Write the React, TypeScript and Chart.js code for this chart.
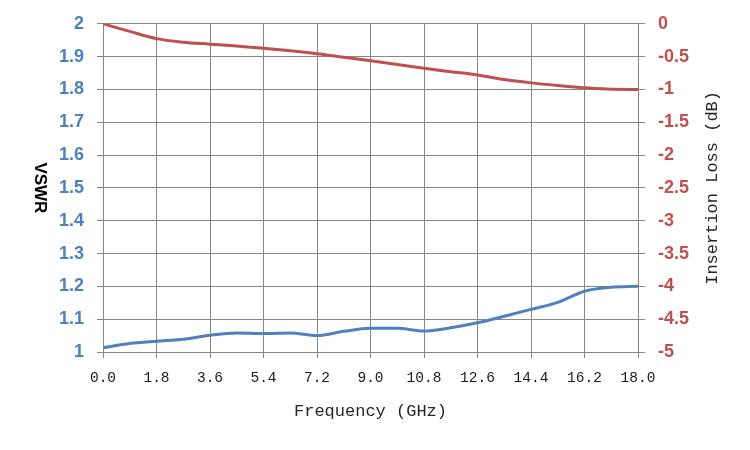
import { useRef, useEffect } from 'react';
import { Chart, registerables, Plugin } from 'chart.js';

Chart.register(...registerables);

// frequency points (GHz)
const freqs = [0, 0.9, 1.8, 2.7, 3.6, 4.5, 5.4, 6.3, 7.2, 8.1, 9.0, 9.9, 10.8, 11.7, 12.6, 13.5, 14.4, 15.3, 16.2, 17.1, 18.0];
const vswr = [1.013, 1.026, 1.033, 1.039, 1.051, 1.058, 1.056, 1.058, 1.05, 1.063, 1.072, 1.072, 1.064, 1.074, 1.089, 1.109, 1.13, 1.151, 1.185, 1.197, 1.2];
const insertionLoss = [0, -0.115, -0.226, -0.28, -0.31, -0.34, -0.372, -0.41, -0.455, -0.51, -0.562, -0.62, -0.678, -0.73, -0.78, -0.85, -0.9, -0.94, -0.975, -0.998, -1.0];
const freqTicks = [0, 1.8, 3.6, 5.4, 7.2, 9.0, 10.8, 12.6, 14.4, 16.2, 18.0];

const BLUE = '#4F81BD';
const RED = '#C0504D';
const GRID = '#878787';
const MONO = '"Liberation Mono", "DejaVu Sans Mono", monospace';
const SANS = '"Liberation Sans", Arial, sans-serif';

// axis titles drawn by hand: the two vertical ones run opposite to Chart.js defaults
const titlesPlugin: Plugin = {
    id: 'axisTitles',
    afterDraw(chart) {
        const { ctx, chartArea } = chart;
        const midY = (chartArea.top + chartArea.bottom) / 2;
        const midX = (chartArea.left + chartArea.right) / 2;
        ctx.save();
        ctx.textAlign = 'center';
        ctx.textBaseline = 'middle';

        ctx.save();
        ctx.translate(40, midY);
        ctx.rotate(Math.PI / 2);
        ctx.font = `bold 17px ${SANS}`;
        ctx.fillStyle = '#000';
        ctx.fillText('VSWR', 0, 0);
        ctx.restore();

        ctx.save();
        ctx.translate(712, midY);
        ctx.rotate(-Math.PI / 2);
        ctx.font = `17px ${MONO}`;
        ctx.fillStyle = '#262626';
        ctx.fillText('Insertion Loss (dB)', 0, 0);
        ctx.restore();

        ctx.font = `17px ${MONO}`;
        ctx.fillStyle = '#262626';
        ctx.fillText('Frequency (GHz)', midX, 411);
        ctx.restore();
    },
};

const App = () => {
    const canvasRef = useRef<HTMLCanvasElement | null>(null);

    useEffect(() => {
        if (!canvasRef.current) return;
        const ctx = canvasRef.current.getContext('2d');
        if (!ctx) return;

        const chart = new Chart(ctx, {
            type: 'line',
            data: {
                datasets: [
                    {
                        label: 'VSWR',
                        data: freqs.map((f, i) => ({ x: f, y: vswr[i] })),
                        borderColor: BLUE,
                        borderWidth: 3,
                        pointRadius: 0,
                        cubicInterpolationMode: 'monotone',
                        yAxisID: 'y',
                    },
                    {
                        label: 'Insertion Loss',
                        data: freqs.map((f, i) => ({ x: f, y: insertionLoss[i] })),
                        borderColor: RED,
                        borderWidth: 3,
                        pointRadius: 0,
                        cubicInterpolationMode: 'monotone',
                        yAxisID: 'y1',
                    },
                ],
            },
            options: {
                animation: false,
                responsive: true,
                maintainAspectRatio: false,
                layout: { padding: { top: 23, left: 0, right: 0, bottom: 0 } },
                plugins: {
                    legend: { display: false },
                    tooltip: { enabled: false },
                },
                scales: {
                    x: {
                        type: 'linear',
                        min: 0,
                        max: 18,
                        afterBuildTicks: (s) => {
                            s.ticks = freqTicks.map((v) => ({ value: v }));
                        },
                        afterFit: (s) => {
                            s.height = 98;
                        },
                        grid: { color: GRID, tickLength: 6 },
                        border: { color: GRID },
                        ticks: {
                            padding: 11,
                            color: '#1a1a1a',
                            font: { family: MONO, size: 14.5 },
                            callback: (v) => Number(v).toFixed(1),
                        },
                    },
                    y: {
                        position: 'left',
                        min: 1,
                        max: 2,
                        afterFit: (s) => {
                            s.width = 103;
                        },
                        grid: { color: GRID, tickLength: 6 },
                        border: { color: GRID },
                        ticks: {
                            stepSize: 0.1,
                            padding: 13,
                            color: BLUE,
                            font: { family: SANS, size: 18, weight: 'bold' },
                            callback: (v) => String(Number(Number(v).toFixed(1))),
                        },
                    },
                    y1: {
                        position: 'right',
                        min: -5,
                        max: 0,
                        afterFit: (s) => {
                            s.width = 112;
                        },
                        grid: { color: GRID, tickLength: 7, drawOnChartArea: false },
                        border: { color: GRID },
                        ticks: {
                            stepSize: 0.5,
                            padding: 13,
                            color: RED,
                            font: { family: SANS, size: 18, weight: 'bold' },
                            callback: (v) => String(Number(Number(v).toFixed(1))),
                        },
                    },
                },
            },
            plugins: [titlesPlugin],
        });

        return () => {
            chart.destroy();
        };
    }, []);

    return (
        <div style={{ position: 'absolute', left: 0, top: 0, width: 750, height: 450, background: '#fff' }}>
            <canvas ref={canvasRef} />
        </div>
    );
};

export default App;
